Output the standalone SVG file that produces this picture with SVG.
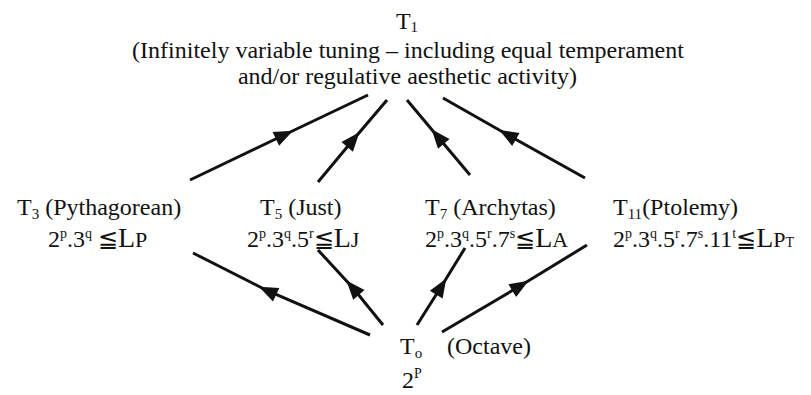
<svg xmlns="http://www.w3.org/2000/svg" width="811" height="395" viewBox="0 0 811 395">
<style>
text{font-family:"Liberation Serif","DejaVu Serif",serif;font-size:24px;fill:#111}
.sub{font-size:15px}
.sup{font-size:14px}
.big{font-size:28px}
.sm{font-size:22px}
.edge{stroke:#111;stroke-width:3;fill:none;marker-mid:url(#ah)}
</style>
<defs>
<marker id="ah" markerUnits="userSpaceOnUse" markerWidth="30" markerHeight="30" viewBox="-15 -15 30 30" refX="0" refY="0" orient="auto">
<path d="M-9,-7.5 L10,0 L-9,7.5 Z" fill="#111"/>
</marker>
</defs>
<g id="connectors">
<path class="edge" d="M190,180 L284,135 L368,95"/>
<path class="edge" d="M318,182 L353,140 L387,100"/>
<path class="edge" d="M470,175 L438,137 L407,100"/>
<path class="edge" d="M585,178 L508,135 L443,98"/>
<path class="edge" d="M370,335 L268,291 L193,253"/>
<path class="edge" d="M383,325 L353,288 L318,250"/>
<path class="edge" d="M417,325 L441,287 L465,248"/>
<path class="edge" d="M442,332 L520,286 L587,245"/>
</g>
<g id="T1">
<text x="407" y="29" text-anchor="middle">T<tspan class="sub" dy="3">1</tspan></text>
<text x="408" y="58" text-anchor="middle">(Infinitely variable tuning – including equal temperament</text>
<text x="407.5" y="84" text-anchor="middle">and/or regulative aesthetic activity)</text>
</g>
<g id="T3">
<text x="17" y="215">T<tspan class="sub" dy="4">3</tspan><tspan dy="-4"> (Pythagorean)</tspan></text>
<text x="48" y="247">2<tspan class="sup" dy="-9">p</tspan><tspan dy="9">.3</tspan><tspan class="sup" dy="-9">q</tspan><tspan dy="9"> ≦</tspan><tspan class="big">L</tspan><tspan class="sm">P</tspan></text>
</g>
<g id="T5">
<text x="260" y="215">T<tspan class="sub" dy="4">5</tspan><tspan dy="-4"> (Just)</tspan></text>
<text x="247" y="247">2<tspan class="sup" dy="-9">p</tspan><tspan dy="9">.3</tspan><tspan class="sup" dy="-9">q</tspan><tspan dy="9">.5</tspan><tspan class="sup" dy="-9">r</tspan><tspan dy="9">≦</tspan><tspan class="big">L</tspan><tspan class="sm">J</tspan></text>
</g>
<g id="T7">
<text x="425" y="215">T<tspan class="sub" dy="4">7</tspan><tspan dy="-4"> (Archytas)</tspan></text>
<text x="425" y="247">2<tspan class="sup" dy="-9">p</tspan><tspan dy="9">.3</tspan><tspan class="sup" dy="-9">q</tspan><tspan dy="9">.5</tspan><tspan class="sup" dy="-9">r</tspan><tspan dy="9">.7</tspan><tspan class="sup" dy="-9">s</tspan><tspan dy="9">≦</tspan><tspan class="big">L</tspan><tspan class="sm">A</tspan></text>
</g>
<g id="T11">
<text x="613" y="215">T<tspan class="sub" dy="4">11</tspan><tspan dy="-4">(Ptolemy)</tspan></text>
<text x="613" y="247">2<tspan class="sup" dy="-9">p</tspan><tspan dy="9">.3</tspan><tspan class="sup" dy="-9">q</tspan><tspan dy="9">.5</tspan><tspan class="sup" dy="-9">r</tspan><tspan dy="9">.7</tspan><tspan class="sup" dy="-9">s</tspan><tspan dy="9">.11</tspan><tspan class="sup" dy="-9">t</tspan><tspan dy="9">≦</tspan><tspan class="big">L</tspan><tspan class="sm">P</tspan><tspan class="sup">T</tspan></text>
</g>
<g id="T0">
<text x="400" y="354">T<tspan class="sub" dy="4">o</tspan></text>
<text x="447" y="354">(Octave)</text>
<text x="402" y="388">2<tspan class="sup" dy="-10">P</tspan></text>
</g>
</svg>
